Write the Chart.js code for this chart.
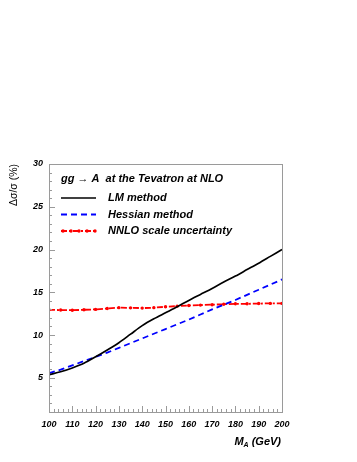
<!DOCTYPE html>
<html>
<head>
<meta charset="utf-8">
<script src="https://cdn.jsdelivr.net/npm/chart.js@4"></script>
<style>
  html, body { margin: 0; padding: 0; background: #fff; }
  #wrap { width: 357px; height: 462px; }
</style>
</head>
<body>
<div id="wrap"><canvas id="myChart" width="357" height="462"></canvas></div>
<script>
// masas M_A (GeV)
const massA = [100, 105, 110, 115, 120, 125, 130, 135, 140, 145, 150, 155, 160, 165, 170, 175, 180, 185, 190, 195, 200];
// incertidumbres (%)
const lmMethod = [5.35, 5.7, 6.15, 6.7, 7.45, 8.25, 9.1, 10.1, 11.1, 11.9, 12.6, 13.3, 14.05, 14.75, 15.45, 16.2, 16.9, 17.65, 18.4, 19.2, 20.0];
const hessianMethod = [5.55, 5.95, 6.45, 6.95, 7.45, 7.95, 8.5, 9.05, 9.6, 10.15, 10.7, 11.25, 11.8, 12.4, 13.0, 13.55, 14.1, 14.7, 15.3, 15.9, 16.5];
const nnloScale = [12.95, 12.92, 12.9, 12.95, 13.0, 13.1, 13.2, 13.18, 13.15, 13.2, 13.3, 13.38, 13.45, 13.5, 13.55, 13.6, 13.65, 13.65, 13.68, 13.7, 13.7];

const seriesLabels = ['LM method', 'Hessian method', 'NNLO scale uncertainty'];
const legendTitle = 'gg \u2192 A  at the Tevatron at NLO';
const xTitle = '(GeV)';
const yTitle = '\u0394\u03c3/\u03c3 (%)';

const toPoints = (ys) => massA.map((m, i) => ({ x: m, y: ys[i] }));

const FRAME = '#9a9a9a';
const FONT = 'Liberation Sans, Arial, Helvetica, sans-serif';

// marco, ticks interiores, leyenda y títulos
const framePlugin = {
    id: 'framePlugin',
    afterDraw(chart) {
        const ctx = chart.ctx;
        const a = chart.chartArea;
        const xs = chart.scales.x;
        const ys = chart.scales.y;
        ctx.save();
        ctx.strokeStyle = FRAME;
        ctx.lineWidth = 1;
        ctx.strokeRect(a.left + 0.5, a.top + 0.5, a.right - a.left, a.bottom - a.top);

        // ticks eje y (hacia dentro)
        ctx.beginPath();
        for (let v = 1; v <= 30; v++) {
            const py = Math.round(ys.getPixelForValue(v)) + 0.5;
            const len = v % 5 === 0 ? 6 : 3;
            ctx.moveTo(a.left, py);
            ctx.lineTo(a.left + len, py);
        }
        // ticks eje x
        for (let v = 100; v <= 200; v += 2) {
            const px = Math.round(xs.getPixelForValue(v)) + 0.5;
            const len = v % 10 === 0 ? 6 : 3;
            ctx.moveTo(px, a.bottom);
            ctx.lineTo(px, a.bottom - len);
        }
        ctx.stroke();

        // leyenda
        ctx.fillStyle = '#000';
        ctx.textBaseline = 'middle';
        ctx.textAlign = 'left';
        ctx.font = 'italic bold 11px ' + FONT;
        ctx.fillText(legendTitle, 61, 179);
        const rows = [198, 214.5, 231];
        chart.data.datasets.forEach((ds, i) => {
            ctx.save();
            ctx.strokeStyle = ds.borderColor;
            ctx.lineWidth = ds.borderWidth;
            ctx.setLineDash(ds.borderDash || []);
            ctx.beginPath();
            ctx.moveTo(61, rows[i]);
            ctx.lineTo(96, rows[i]);
            ctx.stroke();
            if (ds.pointRadius > 0) {
                ctx.fillStyle = ds.borderColor;
                for (let px = 63; px <= 95; px += 8) {
                    ctx.beginPath();
                    ctx.arc(px, rows[i], ds.pointRadius, 0, Math.PI * 2);
                    ctx.fill();
                }
            }
            ctx.restore();
            ctx.fillText(ds.label, 108, rows[i]);
        });

        // título eje x: M_A (GeV)
        ctx.textAlign = 'right';
        ctx.font = 'italic bold 11px ' + FONT;
        ctx.fillText(xTitle, 281, 442);
        const w = ctx.measureText(' ' + xTitle).width;
        ctx.font = 'italic bold 7px ' + FONT;
        const wa = ctx.measureText('A').width;
        ctx.fillText('A', 281 - w, 445);
        ctx.font = 'italic bold 11px ' + FONT;
        ctx.fillText('M', 281 - w - wa, 442);

        // título eje y
        ctx.translate(14, 185);
        ctx.rotate(-Math.PI / 2);
        ctx.textAlign = 'center';
        ctx.font = '10.5px ' + FONT;
        ctx.fillText(yTitle, 0, 0);
        ctx.restore();
    }
};

new Chart(document.getElementById('myChart').getContext('2d'), {
    type: 'scatter',
    data: {
        datasets: [
            {
                label: seriesLabels[0],
                data: toPoints(lmMethod),
                borderColor: '#000000',
                backgroundColor: '#000000',
                borderWidth: 1.7,
                pointRadius: 0,
                showLine: true,
                tension: 0.3,
            },
            {
                label: seriesLabels[1],
                data: toPoints(hessianMethod),
                borderColor: '#0000ff',
                backgroundColor: '#0000ff',
                borderWidth: 1.8,
                borderDash: [6, 4],
                pointRadius: 0,
                showLine: true,
                tension: 0,
            },
            {
                label: seriesLabels[2],
                data: toPoints(nnloScale),
                borderColor: '#ff0000',
                backgroundColor: '#ff0000',
                borderWidth: 1.8,
                borderDash: [6, 2, 2, 2],
                pointRadius: 1.7,
                pointBorderWidth: 0,
                pointStyle: 'circle',
                showLine: true,
                tension: 0,
            }
        ]
    },
    options: {
        responsive: false,
        maintainAspectRatio: false,
        animation: false,
        layout: { padding: { left: 0, top: 164, right: 75, bottom: 0 } },
        plugins: {
            legend: { display: false },
            tooltip: { enabled: false },
        },
        scales: {
            x: {
                type: 'linear',
                min: 100,
                max: 200,
                afterFit: (s) => { s.height = 50; },
                grid: { display: false, drawTicks: false },
                border: { display: true, color: FRAME },
                ticks: {
                    stepSize: 10,
                    padding: 7,
                    maxRotation: 0,
                    color: '#000',
                    font: { family: FONT, size: 9, style: 'italic', weight: 'bold' },
                },
            },
            y: {
                min: 1,
                max: 30,
                afterFit: (s) => { s.width = 49; },
                grid: { display: false, drawTicks: false },
                border: { display: true, color: FRAME },
                afterBuildTicks: (s) => {
                    s.ticks = [5, 10, 15, 20, 25, 30].map(v => ({ value: v }));
                },
                ticks: {
                    padding: 6,
                    color: '#000',
                    font: { family: FONT, size: 9, style: 'italic', weight: 'bold' },
                },
            },
        },
    },
    plugins: [framePlugin],
});
</script>
</body>
</html>
